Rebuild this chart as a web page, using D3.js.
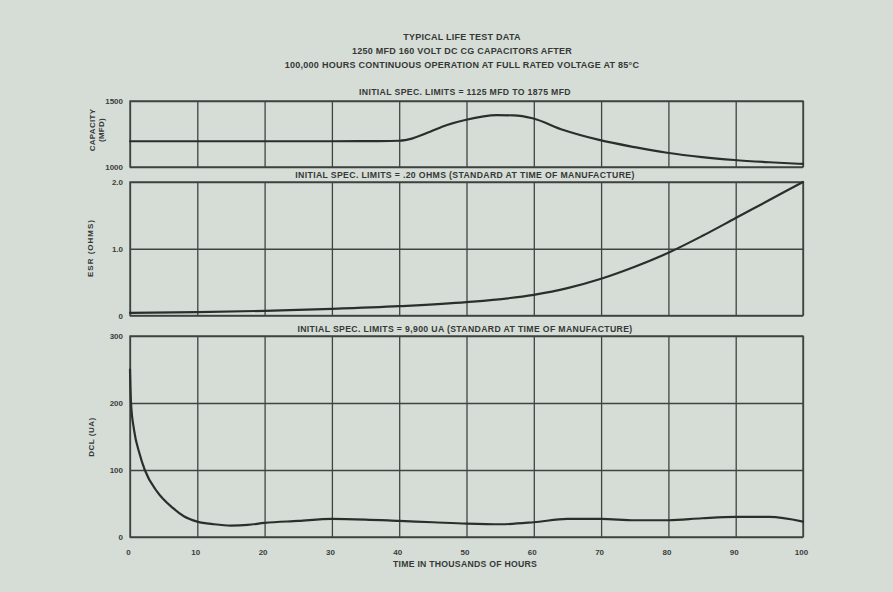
<!DOCTYPE html>
<html><head><meta charset="utf-8">
<script src="https://cdn.jsdelivr.net/npm/d3@7"></script>
<style>
body{margin:0;background:#d6ddd6;}
svg{display:block;}
text{font-family:"Liberation Sans",Arial,sans-serif;fill:#353836;}
</style>
</head><body>
<svg id="c" width="893" height="592"></svg>
<script>
// ---- data ----
const titleLines = [
  "TYPICAL LIFE TEST DATA",
  "1250 MFD 160 VOLT DC CG CAPACITORS AFTER",
  "100,000 HOURS CONTINUOUS OPERATION AT FULL RATED VOLTAGE AT 85°C"
];
const xTicks = [0,10,20,30,40,50,60,70,80,90,100];
const xTitle = "TIME IN THOUSANDS OF HOURS";

const capNote = "INITIAL SPEC. LIMITS = 1125 MFD TO 1875 MFD";
const capTitle = ["CAPACITY","(MFD)"];
const capTicks = [1000,1500];
const capHours  = [0,10,20,30,37,40,42,44.6,47.1,49.8,54.5,57,59.8,64.4,69.7,75,79.8,85,89.8,95,100];
const capValues = [1195,1195,1195,1195,1196,1199,1217,1267,1318,1356,1393,1391,1369,1280,1205,1150,1108,1075,1053,1036,1023];

const esrNote = "INITIAL SPEC. LIMITS = .20 OHMS (STANDARD AT TIME OF MANUFACTURE)";
const esrTitle = ["ESR (OHMS)"];
const esrTicks = [0,1,2];
const esrTickLabels = ["0","1.0","2.0"];
const esrHours  = [0,10,20,30,40,50,60,65,70,75,80,85,90,95,100];
const esrValues = [0.04,0.05,0.07,0.10,0.14,0.20,0.31,0.41,0.55,0.73,0.94,1.19,1.46,1.73,2.0];

const dclNote = "INITIAL SPEC. LIMITS = 9,900 UA (STANDARD AT TIME OF MANUFACTURE)";
const dclTitle = ["DCL (UA)"];
const dclTicks = [0,100,200,300];
const dclHours  = [0,0.15,0.6,1.4,2.2,4,6.4,8,10,12.5,15,17.5,20,25,30,35,40,45,50,55,60,65,70,75,80,85,90,95,100];
const dclValues = [250,200,160,125,100,68,43,31,23,19,17,18,21,24,27,26,24,22,20,19,22,27,27,25,25,28,30,30,23];

// ---- layout ----
const svg = d3.select("#c");
const W = 893, H = 592;
svg.append("rect").attr("width",W).attr("height",H).attr("fill","#d6ddd6");
const x = d3.scaleLinear().domain([0,100]).range([130,803]);
const gridColor = "#3f4441", curveColor = "#2b2f2c";

svg.selectAll("text.title").data(titleLines).join("text")
  .attr("class","title")
  .attr("x",462).attr("y",(d,i)=>39.8+i*14.3)
  .attr("text-anchor","middle")
  .style("font-size","9px").style("font-weight","bold").style("letter-spacing","0.25px")
  .text(d=>d);

const panels = [
  {note:capNote, title:capTitle, ticks:capTicks, labels:capTicks.map(String), dom:[1000,1500], rng:[167,101], hx:capHours, hy:capValues, noteY:95, titleY:130, titleX:[92,101], ls:["0.3px","0.3px"]},
  {note:esrNote, title:esrTitle, ticks:esrTicks, labels:esrTickLabels, dom:[0,2], rng:[315.5,182], hx:esrHours, hy:esrValues, noteY:177.5, titleY:248, titleX:[90], ls:["1px"]},
  {note:dclNote, title:dclTitle, ticks:dclTicks, labels:dclTicks.map(String), dom:[0,300], rng:[537,336], hx:dclHours, hy:dclValues, noteY:331.5, titleY:437, titleX:[91], ls:["0.5px"]}
];

panels.forEach((p,pi)=>{
  const y = d3.scaleLinear().domain(p.dom).range(p.rng);
  const g = svg.append("g");
  // vertical grid
  g.append("g").attr("transform",`translate(0,${p.rng[0]})`)
    .call(d3.axisBottom(x).tickValues(xTicks).tickSize(p.rng[1]-p.rng[0]).tickFormat(""))
    .call(a=>a.select(".domain").remove())
    .call(a=>a.selectAll("line").attr("stroke",gridColor).attr("stroke-width",1.3));
  // horizontal grid
  g.append("g").attr("transform",`translate(${x.range()[0]},0)`)
    .call(d3.axisLeft(y).tickValues(p.ticks).tickSize(-(x.range()[1]-x.range()[0])).tickFormat(""))
    .call(a=>a.select(".domain").remove())
    .call(a=>a.selectAll("line").attr("stroke",gridColor).attr("stroke-width",1.3));
  // y labels
  g.append("g").attr("transform",`translate(${x.range()[0]},0)`)
    .call(d3.axisLeft(y).tickValues(p.ticks).tickSize(0).tickPadding(7).tickFormat((d,i)=>p.labels[i]))
    .call(a=>a.select(".domain").remove())
    .call(a=>a.selectAll("text").style("font-size","8px").style("font-weight","bold").style("fill","#3a3d3b"));
  // frame
  g.append("rect").attr("x",x(0)).attr("y",p.rng[1]).attr("width",x(100)-x(0)).attr("height",p.rng[0]-p.rng[1])
    .attr("fill","none").attr("stroke",gridColor).attr("stroke-width",1.4);
  // curve
  const pts = p.hx.map((h,i)=>[h,p.hy[i]]);
  g.append("path").datum(pts)
    .attr("d",d3.line().x(d=>x(d[0])).y(d=>y(d[1])).curve(d3.curveMonotoneX))
    .attr("fill","none").attr("stroke",curveColor).attr("stroke-width",2.2).attr("stroke-linecap","round");
  // note
  g.append("text").attr("x",465).attr("y",p.noteY).attr("text-anchor","middle")
    .style("font-size","8.7px").style("font-weight","bold").style("letter-spacing","0.35px").text(p.note);
  // y title
  p.title.forEach((t,ti)=>{
    g.append("text").attr("transform",`translate(${p.titleX[ti]+3},${p.titleY}) rotate(-90)`)
      .attr("text-anchor","middle").style("font-size","8px").style("font-weight","bold")
      .style("letter-spacing",p.ls[ti]).text(t);
  });
  if(pi===2){
    g.append("g").attr("transform",`translate(0,${p.rng[0]})`)
      .call(d3.axisBottom(x).tickValues(xTicks).tickSize(0).tickPadding(12).tickFormat(d3.format("d")))
      .call(a=>a.select(".domain").remove())
      .call(a=>a.selectAll("text").attr("dx",-2).style("font-size","8px").style("font-weight","bold").style("fill","#3a3d3b"));
    g.append("text").attr("x",465).attr("y",566.5).attr("text-anchor","middle")
      .style("font-size","8.7px").style("font-weight","bold").style("letter-spacing","0.25px").text(xTitle);
  }
});
</script>
</body></html>
